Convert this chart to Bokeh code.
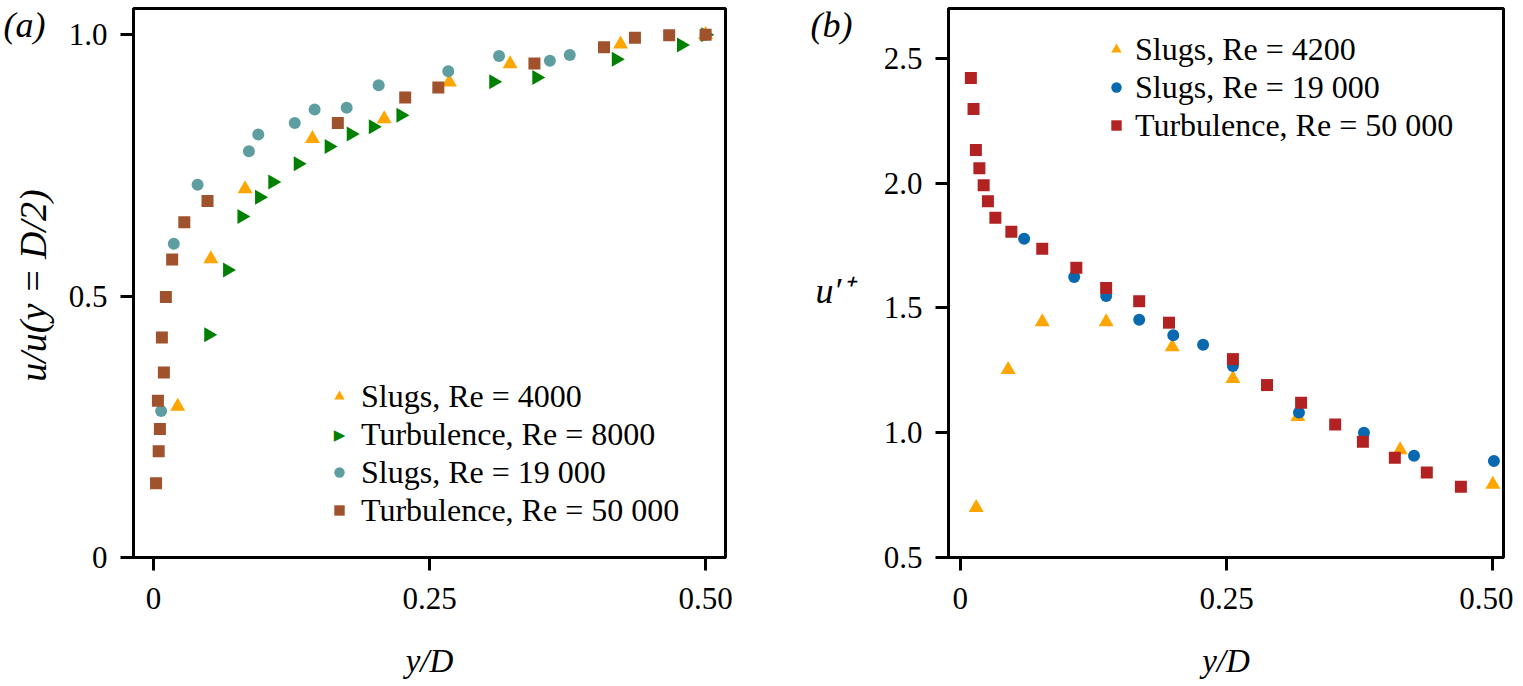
import math
from bokeh.plotting import figure
from bokeh.models import Range1d, FixedTicker, Legend, LegendItem, Label
from bokeh.layouts import row
from bokeh.embed import file_html
from bokeh.resources import INLINE

# ---------------- data: panel (a) ----------------
a_s4000_x = [0.022, 0.052, 0.083, 0.144, 0.209, 0.268, 0.323, 0.423, 0.500]
a_s4000_y = [0.289, 0.571, 0.705, 0.801, 0.839, 0.909, 0.944, 0.982, 1.000]

a_t8000_x = [0.050, 0.067, 0.080, 0.096, 0.108, 0.131, 0.159, 0.179, 0.199,
             0.224, 0.308, 0.347, 0.419, 0.478, 0.500]
a_t8000_y = [0.426, 0.550, 0.652, 0.689, 0.718, 0.753, 0.786, 0.810, 0.824,
             0.846, 0.910, 0.918, 0.953, 0.980, 1.000]

a_s19000_x = [0.007, 0.0185, 0.040, 0.0865, 0.095, 0.128, 0.146, 0.175, 0.204,
              0.267, 0.313, 0.359, 0.377, 0.500]
a_s19000_y = [0.280, 0.600, 0.713, 0.777, 0.809, 0.831, 0.857, 0.860, 0.903,
              0.930, 0.959, 0.950, 0.961, 1.000]

a_t50000_x = [0.0024, 0.0048, 0.0059, 0.0041, 0.0095, 0.0077, 0.0113, 0.017, 0.028,
              0.049, 0.167, 0.228, 0.258, 0.345, 0.408, 0.436, 0.467, 0.500]
a_t50000_y = [0.142, 0.203, 0.246, 0.300, 0.354, 0.421, 0.498, 0.570, 0.641,
              0.682, 0.831, 0.880, 0.899, 0.945, 0.976, 0.994, 0.999, 1.000]

a_labels = ["Slugs, Re = 4000", "Turbulence, Re = 8000",
            "Slugs, Re = 19 000", "Turbulence, Re = 50 000"]

# ---------------- data: panel (b) ----------------
b_s4200_x = [0.015, 0.045, 0.077, 0.137, 0.199, 0.256, 0.317, 0.413, 0.500]
b_s4200_y = [0.700, 1.253, 1.444, 1.444, 1.344, 1.217, 1.064, 0.931, 0.793]

b_s19000_x = [0.060, 0.107, 0.137, 0.168, 0.200, 0.228, 0.256, 0.318, 0.379,
              0.426, 0.501]
b_s19000_y = [1.777, 1.624, 1.548, 1.453, 1.391, 1.353, 1.267, 1.081, 1.000,
              0.908, 0.887]

b_t50000_x = [0.010, 0.0125, 0.0147, 0.018, 0.022, 0.026, 0.033, 0.048, 0.077,
              0.109, 0.137, 0.168, 0.196, 0.256, 0.288, 0.320, 0.352, 0.378,
              0.408, 0.438, 0.470]
b_t50000_y = [2.421, 2.297, 2.133, 2.060, 1.992, 1.928, 1.861, 1.805, 1.737,
              1.661, 1.580, 1.527, 1.441, 1.295, 1.191, 1.120, 1.033, 0.964,
              0.900, 0.841, 0.784]

b_labels = ["Slugs, Re = 4200", "Slugs, Re = 19 000", "Turbulence, Re = 50 000"]

# ticks
a_xticks = [0, 0.25, 0.5]
a_xtick_labels = ["0", "0.25", "0.50"]
a_yticks = [0, 0.5, 1.0]
a_ytick_labels = ["0", "0.5", "1.0"]
b_xticks = [0, 0.25, 0.5]
b_xtick_labels = ["0", "0.25", "0.50"]
b_yticks = [0.5, 1.0, 1.5, 2.0, 2.5]
b_ytick_labels = ["0.5", "1.0", "1.5", "2.0", "2.5"]

SERIF = "Liberation Serif"
ORANGE = "#FFA500"
GREEN = "#008000"
TEAL = "#5F9EA0"
SIENNA = "#A0522D"
BLUE = "#0868B0"
RED = "#B22222"

H = 686
TOP = 8
BOTTOM = 129
FRAME_BOTTOM = H - BOTTOM  # screen y of the frames' lower edge


def style(p, xt, xl, yt, yl):
    p.grid.visible = False
    p.outline_line_color = "black"
    p.outline_line_width = 3
    p.outline_line_alpha = 1.0
    p.xaxis.ticker = FixedTicker(ticks=xt)
    p.xaxis.major_label_overrides = {t: l for t, l in zip(xt, xl)}
    p.yaxis.ticker = FixedTicker(ticks=yt)
    p.yaxis.major_label_overrides = {t: l for t, l in zip(yt, yl)}
    for ax in (p.xaxis, p.yaxis):
        ax.axis_line_width = 3
        ax.axis_line_color = "black"
        ax.major_tick_in = 0
        ax.major_tick_out = 13
        ax.major_tick_line_width = 3
        ax.major_tick_line_color = "black"
        ax.minor_tick_in = 0
        ax.minor_tick_out = 0
        ax.major_label_text_font = SERIF
        ax.major_label_text_font_size = "31px"
        ax.major_label_text_color = "black"
        ax.axis_label_text_font = SERIF
        ax.axis_label_text_font_style = "italic"
        ax.axis_label_text_font_size = "33px"
        ax.axis_label_text_color = "black"
    p.xaxis.major_label_standoff = 17
    p.xaxis.axis_label_standoff = 31
    p.yaxis.major_label_standoff = 13


def legend(items, loc, row_h, standoff):
    return Legend(items=items, location=loc, padding=0, margin=0, spacing=0,
                  glyph_width=26, glyph_height=row_h, label_height=row_h,
                  label_standoff=standoff, border_line_alpha=0,
                  background_fill_alpha=0, label_text_font=SERIF,
                  label_text_font_size="32px", label_text_color="black")


def text_strip(width):
    s = figure(width=width, height=H, x_range=Range1d(0, 1), y_range=Range1d(0, 1),
               output_backend="svg", toolbar_location=None,
               x_axis_location=None, y_axis_location=None, min_border=0)
    s.min_border_left = s.min_border_right = 0
    s.min_border_top = TOP
    s.min_border_bottom = BOTTOM
    s.grid.visible = False
    s.outline_line_color = None
    return s


def add_text(p, x, sy, text, size, angle=0.0, align="left", font=SERIF,
             style="italic", color="black"):
    # sy: wanted screen y (from top); converted to frame units (from bottom)
    p.add_layout(Label(x=x, y=FRAME_BOTTOM - sy, x_units="screen", y_units="screen",
                       text=text, angle=angle, text_align=align,
                       text_baseline="middle", text_font=font,
                       text_font_style=style, text_font_size=size,
                       text_color=color))


# ---------------- left text strip (panel a labels) ----------------
la = text_strip(60)
add_text(la, 3, 24, "(a)", "36px")
add_text(la, 32, 285, "u/u(y = D/2)", "38px", angle=math.pi / 2, align="center")

# ---------------- panel (a) ----------------
pa = figure(width=738, height=H, x_range=Range1d(-0.018, 0.518),
            y_range=Range1d(0, 1.05), output_backend="svg",
            toolbar_location=None, min_border_left=73, min_border_right=73,
            min_border_top=TOP, min_border_bottom=BOTTOM)
style(pa, a_xticks, a_xtick_labels, a_yticks, a_ytick_labels)
pa.xaxis.axis_label = "y/D"

ra1 = pa.scatter(a_s4000_x, a_s4000_y, marker="triangle", size=15,
                 fill_color=ORANGE, line_color=None)
ra2 = pa.scatter(a_t8000_x, a_t8000_y, marker="triangle", size=15,
                 angle=-math.pi / 2, fill_color=GREEN, line_color=None)
ra3 = pa.scatter(a_s19000_x, a_s19000_y, marker="circle", size=12,
                 fill_color=TEAL, line_color=None)
ra4 = pa.scatter(a_t50000_x, a_t50000_y, marker="square", size=12,
                 fill_color=SIENNA, line_color=None)
# legend icon holder for the right-pointing triangle (legend icons ignore angle)
ra2_icon = pa.scatter([], [], marker="square", size=1, fill_alpha=0, line_alpha=0)
pa.add_layout(legend([LegendItem(label=l, renderers=[r]) for l, r in
                      zip(a_labels, [ra1, ra2_icon, ra3, ra4])], (193, 28), 38, 9))
pa.add_layout(Label(x=206, y=123, x_units="screen", y_units="screen",
                    text="\u25B6", text_align="center", text_baseline="middle",
                    text_font="DejaVu Sans", text_font_size="15px",
                    text_color=GREEN))

# ---------------- middle text strip (panel b labels) ----------------
lb = text_strip(77)
add_text(lb, 12, 24, "(b)", "36px")
add_text(lb, 17, 290, "u\u2032\u207a", "36px")

# ---------------- panel (b) ----------------
pb = figure(width=638, height=H, x_range=Range1d(-0.011, 0.510),
            y_range=Range1d(0.5, 2.7), output_backend="svg",
            toolbar_location=None, min_border_left=73, min_border_right=10,
            min_border_top=TOP, min_border_bottom=BOTTOM)
style(pb, b_xticks, b_xtick_labels, b_yticks, b_ytick_labels)
pb.xaxis.axis_label = "y/D"

rb1 = pb.scatter(b_s4200_x, b_s4200_y, marker="triangle", size=15,
                 fill_color=ORANGE, line_color=None)
rb2 = pb.scatter(b_s19000_x, b_s19000_y, marker="circle", size=12,
                 fill_color=BLUE, line_color=None)
rb3 = pb.scatter(b_t50000_x, b_t50000_y, marker="square", size=12,
                 fill_color=RED, line_color=None)
pb.add_layout(legend([LegendItem(label=l, renderers=[r]) for l, r in
                      zip(b_labels, [rb1, rb2, rb3])], (155, 413), 38, 6))

layout = row(la, pa, lb, pb)
open("out.html", "w").write(file_html(layout, INLINE))
